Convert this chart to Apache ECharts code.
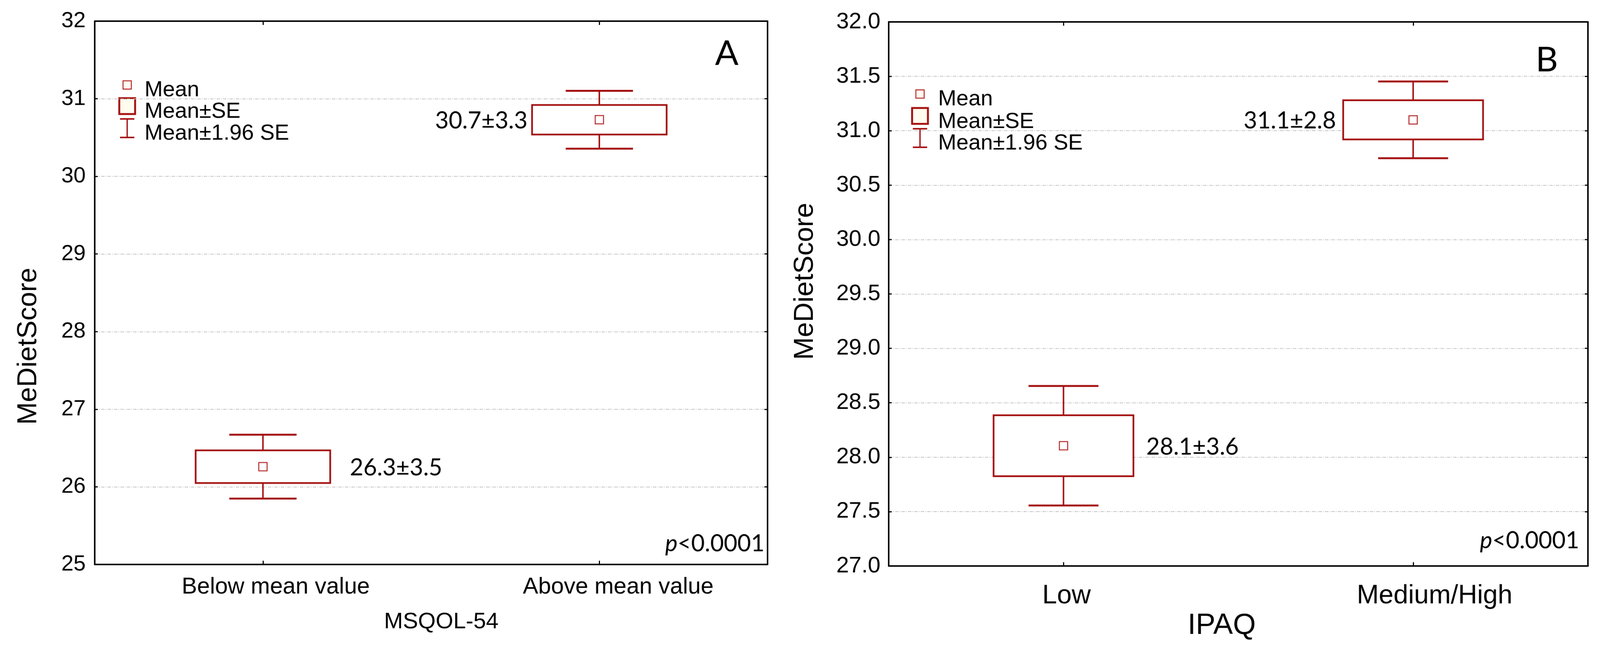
<!DOCTYPE html>
<html>
<head>
<meta charset="utf-8">
<script src="https://cdn.jsdelivr.net/npm/echarts@6/dist/echarts.min.js"></script>
<style>
html,body{margin:0;padding:0;background:#fff;overflow:hidden;}
#chart{width:4240px;height:1704px;transform-origin:0 0;}
</style>
</head>
<body>
<div id="chart"></div>
<script>
// ---------- Data ----------
const catsA = ['Below mean value', 'Above mean value'];
const meanA = [26.26, 30.73];
const seA   = [0.21, 0.19];
const sdA   = [3.5, 3.3];

const catsB = ['Low', 'Medium/High'];
const meanB = [28.105, 31.10];
const seB   = [0.28, 0.18];
const sdB   = [3.6, 2.8];

const ticksA = {min: 25, max: 32, interval: 1};
const ticksB = {min: 27, max: 32, interval: 0.5};

const legendItems = ['Mean', 'Mean\u00B1SE', 'Mean\u00B11.96 SE'];
const pText = '<0.0001';

// ---------- Fit the 4240x1704 layout into the actual viewport ----------
(function () {
  const el = document.getElementById('chart');
  const vw = window.innerWidth || 4240, vh = window.innerHeight || 1704;
  const s = Math.min(vw / 4240, vh / 1704);
  if (Math.abs(s - 1) > 0.002) el.style.transform = 'scale(' + s + ')';
})();

// ---------- Style ----------
const RED = '#a30d0d';
const AX = 'Liberation Sans';
const CAL = 'Lato';

function makeRender(labelGap) {
  return function (params, api) {
    const idx = api.value(0), mean = api.value(1), se = api.value(2), sd = api.value(3);
    const c = api.coord([idx, mean]);
    const band = api.size([1, 0])[0];
    const boxW = band * 0.4, capW = band * 0.2;
    const yTop = api.coord([idx, mean + se])[1];
    const yBot = api.coord([idx, mean - se])[1];
    const wTop = api.coord([idx, mean + 1.96 * se])[1];
    const wBot = api.coord([idx, mean - 1.96 * se])[1];
    const x = c[0];
    const ls = {stroke: RED, lineWidth: 4, fill: null};
    const right = idx === 0;
    const gap = labelGap[idx];
    return {
      type: 'group',
      children: [
        {type: 'line', shape: {x1: x, y1: wTop, x2: x, y2: yTop}, style: ls},
        {type: 'line', shape: {x1: x, y1: yBot, x2: x, y2: wBot}, style: ls},
        {type: 'line', shape: {x1: x - capW / 2, y1: wTop, x2: x + capW / 2, y2: wTop}, style: {stroke: RED, lineWidth: 5, fill: null}},
        {type: 'line', shape: {x1: x - capW / 2, y1: wBot, x2: x + capW / 2, y2: wBot}, style: {stroke: RED, lineWidth: 5, fill: null}},
        {type: 'rect', shape: {x: x - boxW / 2, y: yTop, width: boxW, height: yBot - yTop},
         style: {stroke: RED, lineWidth: 4.5, fill: '#ffffff'}},
        {type: 'rect', shape: {x: x - 11, y: c[1] - 11, width: 22, height: 22},
         style: {stroke: '#b22020', lineWidth: 2.5, fill: '#ffffff'}},
        {type: 'text',
         x: right ? x + boxW / 2 + gap : x - boxW / 2 - gap,
         y: c[1] + 3,
         style: {text: mean.toFixed(1) + '\u00B1' + sd.toFixed(1),
                 font: '62px ' + CAL, fill: '#000',
                 align: right ? 'left' : 'right', verticalAlign: 'middle'}}
      ]
    };
  };
}

// L: layout {sx, sq, se, wt, wb, tx, ty:[3]}
function legendGraphics(L) {
  const fill = '#fffbef';
  const sx = L.sx;
  return [
    {type: 'rect', shape: {x: sx - 11, y: L.sq - 11, width: 22, height: 22},
     style: {stroke: '#b22020', lineWidth: 2.5, fill: fill}},
    {type: 'rect', shape: {x: sx - 21, y: L.se - 21, width: 42, height: 42},
     style: {stroke: RED, lineWidth: 5, fill: fill}},
    {type: 'polyline', shape: {points: [[sx - 19, L.wt], [sx + 19, L.wt]]},
     style: {stroke: RED, lineWidth: 4, fill: null}},
    {type: 'polyline', shape: {points: [[sx - 19, L.wb], [sx + 19, L.wb]]},
     style: {stroke: RED, lineWidth: 4, fill: null}},
    {type: 'polyline', shape: {points: [[sx, L.wt], [sx, L.wb]]},
     style: {stroke: RED, lineWidth: 3.5, fill: null}},
    {type: 'text', x: L.tx, y: L.ty[0], style: {text: legendItems[0], font: '58px ' + AX, fill: '#000', verticalAlign: 'middle'}},
    {type: 'text', x: L.tx, y: L.ty[1], style: {text: legendItems[1], font: '58px ' + AX, fill: '#000', verticalAlign: 'middle'}},
    {type: 'text', x: L.tx, y: L.ty[2], style: {text: legendItems[2], font: '58px ' + AX, fill: '#000', verticalAlign: 'middle'}}
  ];
}

function pGraphic(xRight, y) {
  return {
    type: 'text', x: xRight, y: y,
    style: {
      text: '{i|p}{n|' + pText + '}',
      align: 'right', verticalAlign: 'middle',
      rich: {
        i: {font: 'italic 62px ' + CAL, fill: '#000'},
        n: {font: '62px ' + CAL, fill: '#000'}
      }
    }
  };
}

const gridLine = {show: true, lineStyle: {color: '#c4c4c4', width: 2, type: [9, 3, 2, 3]}};

function catAxis(gridIndex, data, pos, fs, margin, name, nameGap, namePad, nameFs, labelShift) {
  const isBottom = pos === 'bottom';
  const rich = {};
  (labelShift || [0, 0]).forEach((s, i) => {
    rich['c' + i] = {fontFamily: AX, fontSize: fs, color: '#000', padding: [0, 0, 0, 2 * s]};
  });
  return {
    type: 'category', gridIndex: gridIndex, position: pos, data: data,
    boundaryGap: true,
    axisLine: {show: true, lineStyle: {color: '#000', width: 4}},
    axisTick: {show: true, inside: true, alignWithLabel: true, length: 10, lineStyle: {color: '#000', width: 3}},
    axisLabel: {show: isBottom, fontFamily: AX, fontSize: fs, color: '#000', margin: margin,
                formatter: (v, i) => '{c' + i + '|' + v + '}', rich: rich},
    splitLine: {show: false},
    name: isBottom ? name : '',
    nameLocation: 'middle', nameGap: nameGap,
    nameTextStyle: {fontFamily: AX, fontSize: nameFs, color: '#000', padding: namePad}
  };
}

function valAxis(gridIndex, t, pos, fs, margin, fmt, name, nameGap, namePad) {
  const isLeft = pos === 'left';
  return {
    type: 'value', gridIndex: gridIndex, position: pos,
    min: t.min, max: t.max, interval: t.interval,
    axisLine: {show: true, lineStyle: {color: '#000', width: 4}},
    axisTick: {show: true, inside: true, length: 8, lineStyle: {color: '#000', width: 3}},
    axisLabel: {show: isLeft, fontFamily: AX, fontSize: fs, color: '#000', margin: margin, formatter: fmt},
    splitLine: isLeft ? gridLine : {show: false},
    name: isLeft ? name : '',
    nameLocation: 'middle', nameRotate: 90, nameGap: nameGap,
    nameTextStyle: {fontFamily: AX, fontSize: 72, color: '#000', padding: namePad}
  };
}

const chart = echarts.init(document.getElementById('chart'), null, {renderer: 'canvas', width: 4240, height: 1704});

const option = {
  backgroundColor: '#ffffff',
  animation: false,
  grid: [
    {left: 251, top: 56, right: 2206, bottom: 209},
    {left: 2355, top: 58, right: 32, bottom: 205}
  ],
  xAxis: [
    catAxis(0, catsA, 'bottom', 61, 30, 'MSQOL-54', 122, [0, 0, 0, 54], 60, [34, 50]),
    catAxis(0, catsA, 'top', 61, 30, '', 0, 0, 60),
    catAxis(1, catsB, 'bottom', 70, 45, 'IPAQ', 78, [0, 88, 0, 0], 78, [8, 57]),
    catAxis(1, catsB, 'top', 70, 45, '', 0, 0, 78)
  ],
  yAxis: [
    valAxis(0, ticksA, 'left', 58, 24, v => String(v), 'MeDietScore', 139, [0, 283, 0, 0]),
    valAxis(0, ticksA, 'right', 58, 24, v => String(v), '', 0, 0),
    valAxis(1, ticksB, 'left', 60, 22, v => v.toFixed(1), 'MeDietScore', 185, [0, 0, 0, 67]),
    valAxis(1, ticksB, 'right', 60, 22, v => v.toFixed(1), '', 0, 0)
  ],
  series: [
    {
      type: 'custom', name: 'MSQOL-54', xAxisIndex: 0, yAxisIndex: 0,
      renderItem: makeRender([52, 12]),
      encode: {x: 0, y: 1},
      data: catsA.map((c, i) => [i, meanA[i], seA[i], sdA[i]]),
      z: 5
    },
    {
      type: 'custom', name: 'IPAQ', xAxisIndex: 2, yAxisIndex: 2,
      renderItem: makeRender([34, 19]),
      encode: {x: 0, y: 1},
      data: catsB.map((c, i) => [i, meanB[i], seB[i], sdB[i]]),
      z: 5
    }
  ],
  graphic: [].concat(
    legendGraphics({sx: 337, sq: 225, se: 281, wt: 315, wb: 364, tx: 383, ty: [238.5, 296, 353.5]}),
    legendGraphics({sx: 2438, sq: 249, se: 307, wt: 341, wb: 390, tx: 2486, ty: [263, 323, 380]}),
    [
      pGraphic(2026, 1440),
      pGraphic(4185, 1432),
      {type: 'text', x: 1926, y: 142, style: {text: 'A', font: '92px ' + CAL, fill: '#000', align: 'center', verticalAlign: 'middle'}},
      {type: 'text', x: 4099, y: 159, style: {text: 'B', font: '92px ' + CAL, fill: '#000', align: 'center', verticalAlign: 'middle'}}
    ]
  )
};

chart.setOption(option);
</script>
</body>
</html>
